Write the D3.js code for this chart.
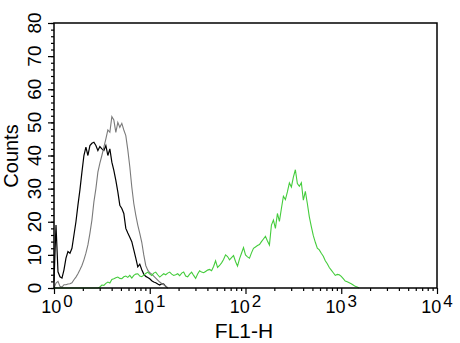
<!DOCTYPE html>
<html>
<head>
<meta charset="utf-8">
<script src="https://cdn.jsdelivr.net/npm/d3@7"></script>
<style>
  body { margin: 0; background: #fff; }
  text { font-family: "Liberation Sans", Arial, sans-serif; fill: #000; }
</style>
</head>
<body>
<script>
// histogram channels: 48 per decade, channel 0 = 10^0
var channelsPerDecade = 48;

// counts per channel
var blackCounts = [2, 19, 4.9, 3.4, 3, 5.5, 9, 11, 10.5, 12, 16, 20, 25, 29.6, 35, 40, 42.5, 40, 43, 43.7,
    44, 43, 41.5, 42.7, 42, 41.5, 43, 40, 42, 38, 35.5, 32.5, 29, 25, 24, 22.5, 18, 16.6, 15.3, 14,
    11.5, 9, 6.4, 7.2, 5.5, 4.2, 3.5, 3.2, 2.8, 2.2, 1.8, 1.6, 1.2, 0.9, 1.3, 1.2, 0.5, 0];

var grayCounts = [0, 1.5, 2, 0.5, 0.3, 1, 1, 1.2, 1.3, 1.6, 2.5, 3.3, 4.3, 5.5, 6.8, 8.5, 10.5, 13, 16.5, 20.5,
    26, 30, 35, 37.7, 40, 42.5, 45, 47.7, 47, 51.7, 50.7, 47, 50, 48.5, 49.7, 47.7, 46, 41.7, 36.6, 30.5,
    25.5, 22, 19, 16.5, 13.8, 10, 6.8, 5.4, 4.6, 4.2, 3.6, 3, 2.4, 1.8, 1.4, 1, 0.6, 0];

var greenCounts = [0, 0, 0, 0, 0, 0, 0, 0, 0, 0, 0, 0, 0, 0, 0, 0, 0, 0, 0, 0,
    0, 0, 0, 0.3, 0.9, 0.8, 1.4, 1.8, 1.5, 2.6, 2.8, 3.1, 3.3, 2.9, 2.8, 3.4, 3.6, 3.2, 3.8, 3,
    3.8, 4.2, 4.3, 3.6, 3.4, 3.9, 4.4, 4.8, 4.2, 3.8, 4.5, 4.8, 4, 3.3, 3.8, 4.3, 4, 4.5, 4.8, 4.2,
    3.8, 4, 4.3, 3.7, 4.5, 4.8, 3.6, 3.4, 4.2, 4.8, 3.8, 2.9, 4.2, 5.2, 4.8, 4.6, 5, 5.4, 5.6, 5.2,
    6.5, 8.2, 6.2, 6.8, 7.6, 8.6, 10, 9.5, 8.5, 9.2, 9.8, 8, 6.6, 8.8, 10.5, 12.2, 10, 9.4, 9, 10.6,
    12, 12.4, 12.8, 13.1, 14, 14.8, 15.6, 14.2, 13, 19, 20.5, 18, 22.5, 20.1, 24, 27.7, 26.7, 29, 31.7, 30.5,
    33.5, 35.7, 31.5, 30.7, 31.8, 26.5, 29.2, 25.5, 21.5, 18.5, 15.8, 13.8, 12, 11.5, 10.5, 9.6, 8.2, 7.3, 6.2, 5.4,
    4.6, 3.8, 4.1, 4, 3.5, 2.8, 2.1, 1.9, 1.6, 1.3, 0.9, 0.5, 0.3, 0];

var yTicks = [0, 10, 20, 30, 40, 50, 60, 70, 80];
var xDecades = [0, 1, 2, 3, 4];

var w = 460;
var h = 343;

var svg = d3.select("body")
    .append("svg")
    .attr("width", w)
    .attr("height", h);

var x = d3.scaleLog().domain([1, 10000]).range([54, 437]);
var y = d3.scaleLinear().domain([0, 80]).range([288, 23]);

function channelValue(i) {
    return Math.pow(10, i / channelsPerDecade);
}

var line = d3.line()
    .x(function(d, i) { return x(channelValue(i)); })
    .y(function(d) { return y(d); });

// minor and major ticks
var yMinor = d3.range(0, 81, 2);
svg.append("g")
    .attr("transform", "translate(54,0)")
    .call(d3.axisLeft(y).tickValues(yMinor).tickSize(3).tickFormat(""))
    .call(function(g) { g.select(".domain").remove(); });
svg.append("g")
    .attr("transform", "translate(54,0)")
    .call(d3.axisLeft(y).tickValues(yTicks).tickSize(6).tickFormat(""))
    .call(function(g) { g.select(".domain").remove(); });

var xMinor = [];
for (var d = 0; d < 4; d++) {
    for (var k = 2; k <= 9; k++) xMinor.push(k * Math.pow(10, d));
}
svg.append("g")
    .attr("transform", "translate(0,288)")
    .call(d3.axisBottom(x).tickValues(xMinor).tickSize(3).tickFormat(""))
    .call(function(g) { g.select(".domain").remove(); });
svg.append("g")
    .attr("transform", "translate(0,288)")
    .call(d3.axisBottom(x).tickValues(xDecades.map(function(e) { return Math.pow(10, e); })).tickSize(6).tickFormat(""))
    .call(function(g) { g.select(".domain").remove(); });

svg.selectAll(".tick line").attr("stroke", "#000").attr("stroke-width", 1.2);

// the histograms
svg.append("path")
    .datum(blackCounts)
    .attr("d", line)
    .attr("fill", "none")
    .attr("stroke", "#000")
    .attr("stroke-width", 1.2);

svg.append("path")
    .datum(grayCounts)
    .attr("d", line)
    .attr("fill", "none")
    .attr("stroke", "#7a7a7a")
    .attr("stroke-width", 1.1);

svg.append("path")
    .datum(greenCounts)
    .attr("d", line)
    .attr("fill", "none")
    .attr("stroke", "#44cc3c")
    .attr("stroke-width", 1.1);

// frame
svg.append("rect")
    .attr("x", 54)
    .attr("y", 23)
    .attr("width", 437 - 54)
    .attr("height", 288 - 23)
    .attr("fill", "none")
    .attr("stroke", "#000")
    .attr("stroke-width", 1.5);

// y labels, rotated
svg.selectAll(".ylab")
    .data(yTicks)
    .enter()
    .append("text")
    .attr("class", "ylab")
    .attr("transform", function(d) { return "translate(41," + y(d) + ") rotate(-90)"; })
    .attr("text-anchor", "middle")
    .style("font-size", "19px")
    .text(function(d) { return d; });

svg.append("text")
    .attr("transform", "translate(18,156) rotate(-90)")
    .attr("text-anchor", "middle")
    .style("font-size", "20px")
    .text("Counts");

// x labels, 10 with superscript exponent
var xl = svg.selectAll(".xlab")
    .data(xDecades)
    .enter()
    .append("text")
    .attr("class", "xlab")
    .attr("x", function(d) { return x(Math.pow(10, d)) + (d === 0 ? 3 : 0); })
    .attr("y", 313)
    .attr("text-anchor", "middle")
    .style("font-size", "18px");
xl.append("tspan").text("10");
xl.append("tspan")
    .attr("dx", 2)
    .attr("dy", -6)
    .style("font-size", "17px")
    .text(function(d) { return d; });

svg.append("text")
    .attr("x", 244)
    .attr("y", 338)
    .attr("text-anchor", "middle")
    .style("font-size", "21px")
    .text("FL1-H");
</script>
</body>
</html>
